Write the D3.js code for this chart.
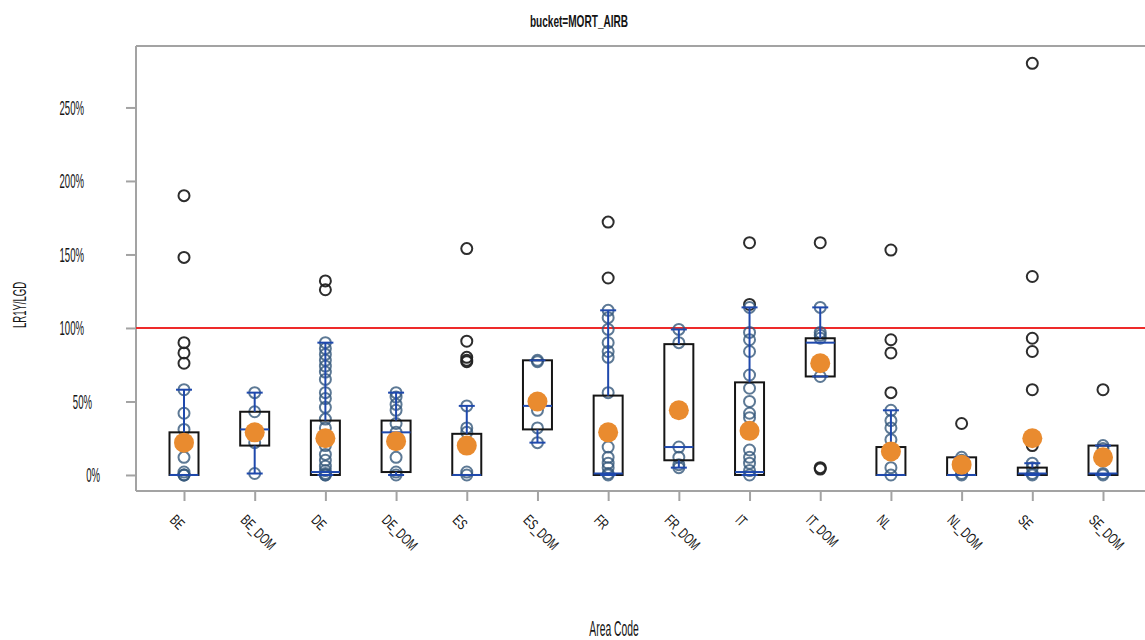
<!DOCTYPE html>
<html>
<head>
<meta charset="utf-8">
<script src="https://cdn.jsdelivr.net/npm/d3@7"></script>
<style>
  html, body { margin: 0; padding: 0; background: #fff; }
  svg { display: block; }
  text { font-family: "Liberation Sans", Arial, sans-serif; fill: #151515; }
</style>
</head>
<body>
<svg id="chart" width="1145" height="640"></svg>
<script>
// ---------- data (values in %) ----------
const chartTitle = "bucket=MORT_AIRB";
const yAxisTitle = "LR1Y/LGD";
const xAxisTitle = "Area Code";
const categories = ["BE","BE_DOM","DE","DE_DOM","ES","ES_DOM","FR","FR_DOM","IT","IT_DOM","NL","NL_DOM","SE","SE_DOM"];
const q1Values      = [0, 20, 0, 2, 0, 31, 0, 10, 0, 67, 0, 0, 0, 0];
const medianValues  = [0, 31, 2, 29, 0, 47, 1, 19, 2, 90, 0, 0, 1, 1];
const q3Values      = [29, 43, 37, 37, 28, 78, 54, 89, 63, 93, 19, 12, 5, 20];
const whiskerLow    = [0, 1, 0, 0, 0, 22, 0, 5, 0, 67, 0, 0, 0, 0];
const whiskerHigh   = [58, 56, 90, 56, 47, 78, 112, 99, 114, 114, 44, 12, 8, 20];
const meanValues    = [22, 29, 25, 23, 20, 50, 29, 44, 30, 76, 16, 7, 25, 12];
const pointValues = [
  [190, 148, 90, 83, 76, 58, 42, 31, 12, 2, 0, 0, 0],
  [56, 43, 31, 22, 1],
  [132, 126, 90, 86, 82, 78, 74, 70, 65, 56, 52, 46, 38, 32, 20, 14, 10, 6, 3, 1, 0, 0],
  [56, 53, 48, 44, 35, 29, 12, 2, 0],
  [154, 91, 80, 78, 77, 47, 32, 29, 2, 0],
  [78, 77, 51, 44, 32, 22],
  [172, 134, 112, 107, 99, 90, 84, 80, 56, 19, 12, 8, 5, 1, 0],
  [99, 90, 19, 12, 7, 5],
  [158, 116, 114, 97, 92, 84, 68, 59, 50, 42, 39, 17, 12, 8, 3, 0],
  [158, 114, 97, 95, 93, 67, 5, 4],
  [153, 92, 83, 56, 44, 37, 32, 24, 14, 5, 0],
  [35, 12, 10, 1, 0],
  [280, 135, 93, 84, 58, 20, 8, 5, 1, 0],
  [58, 20, 18, 1, 0]
];
const yTickValues = [0, 50, 100, 150, 200, 250];
const yTickLabels = ["0%", "50%", "100%", "150%", "200%", "250%"];
const referenceValue = 100;
const yDomain = [-10.9, 291.8];

// ---------- layout ----------
const W = 1145, H = 640;
const plotLeft = 136, plotRight = 1145, plotTop = 46, plotBottom = 491;
const firstCenter = 184, lastCenter = 1103;
const boxW = 29, capW = 16;

const svg = d3.select("#chart");
svg.append("rect").attr("width", W).attr("height", H).attr("fill", "#fff");

const x = d3.scalePoint().domain(categories).range([firstCenter, lastCenter]);
const y = d3.scaleLinear().domain(yDomain).range([plotBottom, plotTop]);

const axisColor = "#a3a3a3";

function ctext(parent, tx, ty, str, o) {
  return parent.append("text")
    .attr("transform", `translate(${tx},${ty}) rotate(${o.rotate || 0}) scale(${o.sx},1)`)
    .attr("text-anchor", o.anchor || "middle")
    .style("font-size", o.size + "px")
    .style("font-weight", o.weight || "normal")
    .text(str);
}

// frame top line
svg.append("line").attr("x1", plotLeft).attr("x2", plotRight)
  .attr("y1", plotTop).attr("y2", plotTop)
  .attr("stroke", axisColor).attr("stroke-width", 2);

// y axis
const yAxisG = svg.append("g").attr("transform", `translate(${plotLeft},0)`)
  .call(d3.axisLeft(y).tickValues(yTickValues).tickSize(10).tickSizeOuter(0)
    .tickFormat((d, i) => yTickLabels[i]));
yAxisG.select(".domain").remove();
yAxisG.selectAll(".tick line").attr("stroke", axisColor).attr("stroke-width", 2);
yAxisG.selectAll(".tick text").each(function(d, i) {
  const t = d3.select(this);
  const lab = yTickLabels[i];
  t.attr("x", null).attr("dy", null)
   .attr("text-anchor", "end")
   .attr("transform", `translate(${-52 + (4 - lab.length) * 8},7) scale(0.48,1)`)
   .style("font-size", "20px").style("font-family", "Liberation Sans, Arial, sans-serif")
   .attr("fill", "#151515");
});
svg.append("line").attr("x1", plotLeft).attr("x2", plotLeft)
  .attr("y1", plotTop).attr("y2", plotBottom)
  .attr("stroke", axisColor).attr("stroke-width", 2);

// x axis
const xAxisG = svg.append("g").attr("transform", `translate(0,${plotBottom})`)
  .call(d3.axisBottom(x).tickSize(10).tickSizeOuter(0));
xAxisG.select(".domain").remove();
xAxisG.selectAll(".tick line").attr("stroke", axisColor).attr("stroke-width", 2);
xAxisG.selectAll(".tick text").remove();
svg.append("line").attr("x1", plotLeft).attr("x2", plotRight)
  .attr("y1", plotBottom).attr("y2", plotBottom)
  .attr("stroke", axisColor).attr("stroke-width", 2);
const xLabG = svg.append("g");
categories.forEach(c => {
  ctext(xLabG, x(c) - 15, plotBottom + 30, c, {rotate: 45, sx: 0.67, size: 15, anchor: "start"});
});

// reference line
svg.append("line").attr("x1", plotLeft).attr("x2", plotRight)
  .attr("y1", y(referenceValue)).attr("y2", y(referenceValue))
  .attr("stroke", "#ee2a2a").attr("stroke-width", 2);

// points
const ptG = svg.append("g");
categories.forEach((c, i) => {
  pointValues[i].forEach(v => {
    const out = v > whiskerHigh[i] || v < whiskerLow[i];
    ptG.append("circle")
      .attr("cx", x(c)).attr("cy", y(v)).attr("r", 5.5)
      .attr("fill", "none")
      .attr("stroke", out ? "#222" : "#34587a")
      .attr("stroke-opacity", out ? 0.95 : 0.8)
      .attr("stroke-width", 2);
  });
});

// boxes and whiskers
const boxG = svg.append("g");
const blue = "#1f49ad";
categories.forEach((c, i) => {
  const cx = x(c);
  boxG.append("rect")
    .attr("x", cx - boxW / 2).attr("y", y(q3Values[i]))
    .attr("width", boxW).attr("height", Math.max(1, y(q1Values[i]) - y(q3Values[i])))
    .attr("fill", "none").attr("stroke", "#151515").attr("stroke-width", 2);
  boxG.append("line").attr("x1", cx).attr("x2", cx)
    .attr("y1", y(q3Values[i])).attr("y2", y(whiskerHigh[i]))
    .attr("stroke", blue).attr("stroke-width", 2);
  boxG.append("line").attr("x1", cx - capW / 2).attr("x2", cx + capW / 2)
    .attr("y1", y(whiskerHigh[i])).attr("y2", y(whiskerHigh[i]))
    .attr("stroke", blue).attr("stroke-width", 2);
  boxG.append("line").attr("x1", cx).attr("x2", cx)
    .attr("y1", y(q1Values[i])).attr("y2", y(whiskerLow[i]))
    .attr("stroke", blue).attr("stroke-width", 2);
  boxG.append("line").attr("x1", cx - capW / 2).attr("x2", cx + capW / 2)
    .attr("y1", y(whiskerLow[i])).attr("y2", y(whiskerLow[i]))
    .attr("stroke", blue).attr("stroke-width", 2);
  boxG.append("line").attr("x1", cx - boxW / 2).attr("x2", cx + boxW / 2)
    .attr("y1", y(medianValues[i])).attr("y2", y(medianValues[i]))
    .attr("stroke", blue).attr("stroke-width", 2);
});

// means
const meanG = svg.append("g");
categories.forEach((c, i) => {
  meanG.append("circle").attr("cx", x(c)).attr("cy", y(meanValues[i])).attr("r", 10)
    .attr("fill", "#e98b2f");
});

// titles
ctext(svg, 579, 27, chartTitle, {sx: 0.63, size: 16, weight: "bold"});
ctext(svg, 26, 305, yAxisTitle, {rotate: -90, sx: 0.53, size: 18});
ctext(svg, 614, 636, xAxisTitle, {sx: 0.47, size: 22});
</script>
</body>
</html>
